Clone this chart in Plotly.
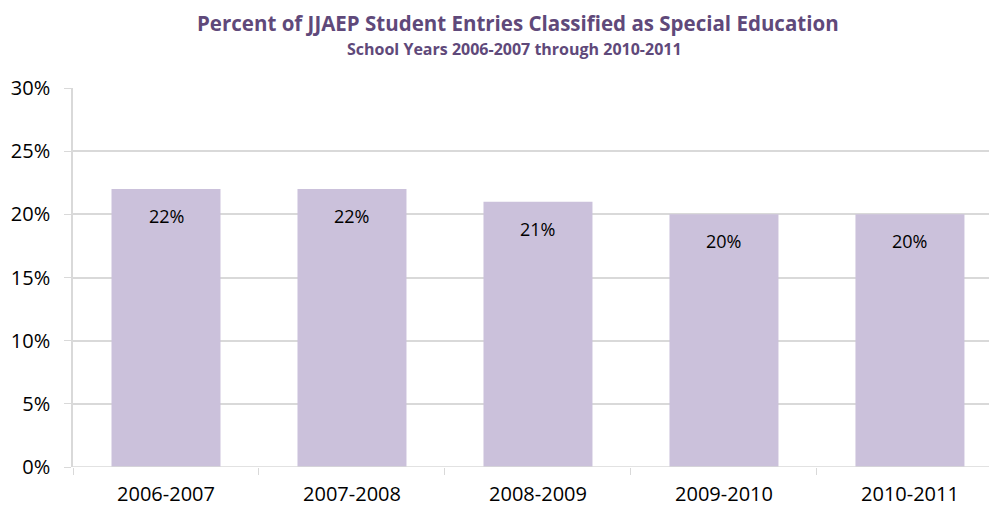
import plotly.graph_objects as go

# data
years = ["2006-2007", "2007-2008", "2008-2009", "2009-2010", "2010-2011"]
pct_special_ed = [22, 22, 21, 20, 20]
y_ticks = [0, 5, 10, 15, 20, 25, 30]

bar_color = "#cbc1db"
title_color = "#5f497a"
grid_color = "#d9d9d9"
font_family = "Open Sans, Lato, sans-serif"

# page body has an 8px margin, so the figure is a bit smaller than the window
PLOT_TOP, PLOT_H, PLOT_L, PLOT_W = 88, 379, 73, 924

fig = go.Figure()

fig.add_trace(go.Bar(
    x=years,
    y=pct_special_ed,
    marker=dict(color=bar_color, line=dict(width=0)),
    hoverinfo="skip",
))

# value labels sit just inside the top of each bar
for yr, v in zip(years, pct_special_ed):
    fig.add_annotation(
        x=yr, y=v, text=f"{v}%",
        showarrow=False, yanchor="middle", yshift=-27,
        font=dict(size=18, color="#000000", family=font_family),
    )

# title + subtitle
fig.add_annotation(
    xref="paper", yref="paper", x=(518 - PLOT_L) / PLOT_W, y=1.0 + (PLOT_TOP - 23) / PLOT_H,
    text="<b>Percent of JJAEP Student Entries Classified as Special Education</b>",
    showarrow=False, xanchor="center", yanchor="middle",
    font=dict(size=20.5, color=title_color, family=font_family),
)
fig.add_annotation(
    xref="paper", yref="paper", x=(514 - PLOT_L) / PLOT_W, y=1.0 + (PLOT_TOP - 49.5) / PLOT_H,
    text="<b>School Years 2006-2007 through 2010-2011</b>",
    showarrow=False, xanchor="center", yanchor="middle",
    font=dict(size=16, color=title_color, family=font_family),
)

fig.update_layout(
    width=989, height=504,
    margin=dict(l=PLOT_L - 8, r=0, t=PLOT_TOP - 8, b=504 - (PLOT_TOP - 8) - PLOT_H),
    plot_bgcolor="white", paper_bgcolor="white",
    showlegend=False,
    bargap=0.414,
    font=dict(family=font_family, size=20, color="#000000"),
    xaxis=dict(
        range=[-0.5, 4.468],
        showgrid=False, zeroline=False,
        showline=False,
        ticks="outside", ticklen=7, tickcolor=grid_color,
        tickson="boundaries",
        tickfont=dict(size=20),
        ticklabelstandoff=13,
        fixedrange=True,
    ),
    yaxis=dict(
        range=[0, 30],
        tickvals=y_ticks,
        ticktext=[f"{t}%" for t in y_ticks],
        showgrid=True, gridcolor=grid_color, gridwidth=1.5,
        zeroline=False,
        showline=True, linecolor=grid_color, linewidth=1.5,
        ticks="outside", ticklen=7, tickcolor=grid_color,
        tickfont=dict(size=20),
        ticklabelstandoff=10,
        fixedrange=True,
    ),
)

# baseline along 0%
fig.add_hline(y=0, line=dict(color=grid_color, width=1.5), layer="above")

fig.write_html("out.html")
